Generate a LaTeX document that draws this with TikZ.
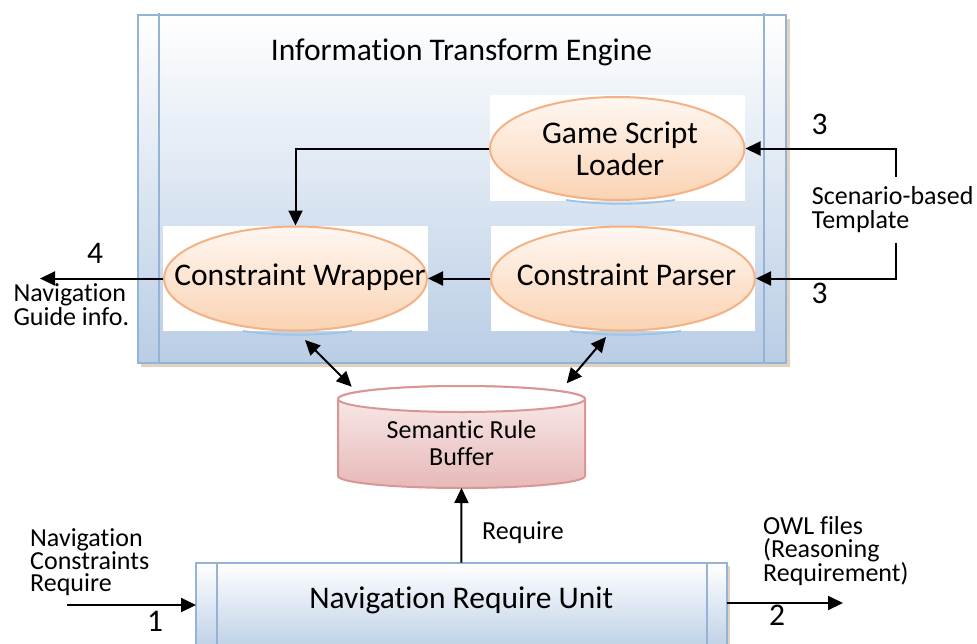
\documentclass[tikz,border=0pt]{standalone}
\usepackage{fontspec}
\setmainfont{Carlito}[Ligatures=NoCommon]
\usetikzlibrary{arrows.meta,shapes.geometric}

\definecolor{frameblue}{HTML}{95B3D7}
\definecolor{fillblue}{HTML}{B9CDE5}
\definecolor{shadowtan}{HTML}{E2D2BE}
\definecolor{ovalline}{HTML}{F4B183}
\definecolor{ovaltop}{HTML}{FFF7F2}
\definecolor{ovalbottom}{HTML}{FAD3B3}
\definecolor{drumline}{HTML}{D99694}
\definecolor{drumtop}{HTML}{FAEDED}
\definecolor{drumbottom}{HTML}{E6B9B8}
\definecolor{glintblue}{HTML}{9DC3E6}

\tikzset{
  bigtext/.style={font=\fontsize{31.5}{32}\selectfont, inner sep=0pt, anchor=base},
  smalltext/.style={font=\fontsize{26}{23.5}\selectfont, inner sep=0pt, align=left, anchor=base west},
  oval/.style={ellipse, draw=ovalline, line width=2pt, top color=ovaltop, bottom color=ovalbottom, inner sep=0pt},
  flow/.style={line width=2pt, -{Triangle[length=15pt,width=14pt]}},
  twoway/.style={line width=2pt, {Triangle[length=15pt,width=14pt]}-{Triangle[length=15pt,width=14pt]}},
  frame/.style={draw=frameblue, line width=2pt},
  glint/.style={draw=glintblue, line width=1.8pt},
}

\begin{document}
\begin{tikzpicture}[x=1pt,y=-1pt]
\useasboundingbox (0,0) rectangle (977,643);

% engine frame with drop shadow
\fill[shadowtan] (141,18.5) rectangle (789.5,366.8);
\shade[top color=white, bottom color=fillblue] (137.7,15) rectangle (786,363.3);
\draw[frame] (137.7,15) rectangle (786,363.3);
\draw[frame] (159.3,13) -- (159.3,363.3);
\draw[frame] (764.3,13) -- (764.3,363.3);
\node[bigtext] (title) at (461.5,60) {Information Transform Engine};

% white backing behind the ovals
\fill[white] (490,95) rectangle (744.5,200.5);
\fill[white] (163,226) rectangle (428,331);
\fill[white] (491,226) rectangle (755,331);

% thin reflections under the ovals
\draw[glint] (566,200) .. controls (600,205) and (641,205) .. (675,200);
\draw[glint] (243,331) .. controls (277,336) and (318,336) .. (352,331);
\draw[glint] (570,331) .. controls (604,336) and (647,336) .. (681,331);

% ovals
\node[oval, minimum width=254.5pt, minimum height=103pt] (gsl) at (617.25,148.5) {};
\node[oval, minimum width=263pt, minimum height=104pt] (cw) at (295.5,278.5) {};
\node[oval, minimum width=264pt, minimum height=104pt] (cp) at (623,278.5) {};
% multi-line texts are anchored on the baseline of their last line
\node[bigtext, align=center] (gslt) at (620,175) {Game Script\\Loader};
\node[bigtext] (cwt) at (300,285) {Constraint Wrapper};
\node[bigtext] (cpt) at (626.5,285) {Constraint Parser};

% flows inside the engine
\draw[flow] (gsl.west) -| (cw.north);
\draw[flow] (cp.west) -- (cw.east);
\coordinate (guide) at (40,278.5);
\draw[flow] (cw.west) -- (guide);
\node[bigtext] (n4) at (95,263.3) {4};
\node[smalltext] (guidet) at (13.3,325) {Navigation\\Guide info.};

% template inputs
\coordinate (tplA) at (896,176.7);
\coordinate (tplB) at (896,242.7);
\draw[flow] (tplA) |- (gsl.east);
\draw[flow] (tplB) |- (cp.east);
\node[bigtext] (n3a) at (819.5,134.3) {3};
\node[bigtext] (n3b) at (819.5,303.3) {3};
\node[smalltext, font=\fontsize{26}{24}\selectfont] (tpl) at (811.7,228) {Scenario-based\\Template};

% semantic rule buffer drum
\path[top color=drumtop, bottom color=drumbottom, draw=drumline, line width=2pt]
  (338,399) -- (338,476) arc[start angle=180, end angle=0, x radius=123.5, y radius=12]
  -- (585,399) arc[start angle=0, end angle=-180, x radius=123.5, y radius=13] -- cycle;
\path[fill=white, draw=drumline, line width=2pt] (461.5,399) ellipse [x radius=123.5, y radius=13];
\node[font=\fontsize{26}{27}\selectfont, inner sep=0pt, align=center, anchor=base] (srb) at (461.5,465) {Semantic Rule\\Buffer};
\coordinate (srbBottom) at (461.5,488);
\coordinate (srbLeft) at (351.7,386.7);
\coordinate (srbRight) at (566.7,383.3);
\coordinate (cwLow) at (305,340);
\coordinate (cpLow) at (606,337);
\draw[twoway] (cwLow) -- (srbLeft);
\draw[twoway] (cpLow) -- (srbRight);

% navigation require unit
\fill[shadowtan] (199,566) rectangle (729.5,660);
\path[top color=white, bottom color=fillblue, draw=frameblue, line width=2pt] (196,562.7) rectangle (726.5,655);
\draw[frame] (216.7,564) -- (216.7,655);
\draw[frame] (706.7,564) -- (706.7,655);
\node[bigtext] (nru) at (461.25,608) {Navigation Require Unit};
\coordinate (nruTop) at (461.25,562.7);
\coordinate (nruLeft) at (196,605);
\coordinate (nruRight) at (726.5,603);
\coordinate (reqIn) at (67,605);
\coordinate (owlOut) at (843,603);
\draw[flow] (nruTop) -- (srbBottom);
\draw[flow] (reqIn) -- (nruLeft);
\draw[flow] (nruRight) -- (owlOut);
\node[smalltext] (req) at (482,539) {Require};
\node[smalltext, font=\fontsize{26}{22.5}\selectfont] (navc) at (30,591.7) {Navigation\\Constraints\\Require};
\node[smalltext, font=\fontsize{26}{23}\selectfont] (owl) at (763,581.7) {OWL files\\(Reasoning\\Requirement)};
\node[bigtext] (n1) at (155,631.7) {1};
\node[bigtext] (n2) at (777,625) {2};
\end{tikzpicture}
\end{document}
